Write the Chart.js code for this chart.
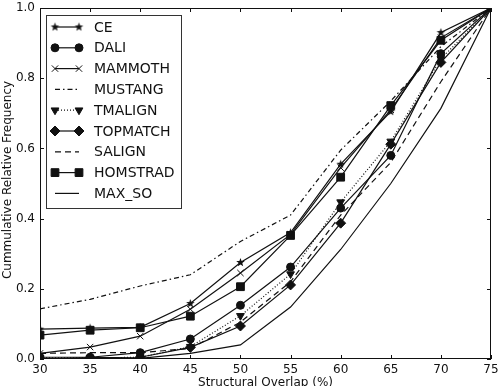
<!DOCTYPE html>
<html lang="en">
<head>
    <meta charset="UTF-8">
    <title>Structural Overlap</title>
    <script src="https://cdn.jsdelivr.net/npm/chart.js"></script>
    <style>
        body {
            margin: 0;
            background: #ffffff;
        }

        .chart-container {
            position: relative;
            width: 500px;
            height: 386px;
        }
    </style>
</head>
<body>
    <div class="chart-container">
        <canvas id="overlapChart"></canvas>
    </div>

    <script>
        // Datos
        const overlap = [30, 35, 40, 45, 50, 55, 60, 65, 70, 75];
        const ce       = [0.085, 0.088, 0.090, 0.158, 0.275, 0.360, 0.555, 0.705, 0.930, 1.0];
        const dali     = [0.005, 0.005, 0.018, 0.057, 0.153, 0.262, 0.430, 0.580, 0.870, 1.0];
        const mammoth  = [0.016, 0.034, 0.065, 0.142, 0.245, 0.355, 0.545, 0.710, 0.915, 1.0];
        const mustang  = [0.143, 0.170, 0.208, 0.240, 0.335, 0.410, 0.595, 0.735, 0.890, 1.0];
        const tmalign  = [0.003, 0.003, 0.005, 0.035, 0.123, 0.242, 0.447, 0.620, 0.855, 1.0];
        const topmatch = [0.000, 0.004, 0.005, 0.033, 0.094, 0.211, 0.387, 0.612, 0.845, 1.0];
        const salign   = [0.016, 0.018, 0.018, 0.030, 0.105, 0.220, 0.410, 0.560, 0.790, 1.0];
        const homstrad = [0.068, 0.082, 0.089, 0.122, 0.206, 0.352, 0.518, 0.722, 0.908, 1.0];
        const maxSo    = [0.000, 0.000, 0.002, 0.016, 0.040, 0.148, 0.312, 0.500, 0.714, 1.0];
        const yTicks = [0, 0.2, 0.4, 0.6, 0.8, 1.0];

        const ink = '#111111';

        // Estrella rellena (estilo matplotlib '*')
        function makeStar(r) {
            const c = document.createElement('canvas');
            c.width = r * 2 + 2;
            c.height = r * 2 + 2;
            const g = c.getContext('2d');
            g.fillStyle = ink;
            g.beginPath();
            for (let i = 0; i < 10; i++) {
                const rad = i % 2 === 0 ? r : r * 0.42;
                const a = -Math.PI / 2 + i * Math.PI / 5;
                g.lineTo(r + 1 + rad * Math.cos(a), r + 1 + rad * Math.sin(a));
            }
            g.closePath();
            g.fill();
            return c;
        }
        const star = makeStar(4.5);

        function series(label, values, extra) {
            return Object.assign({
                label,
                data: overlap.map((x, i) => ({ x, y: values[i] })),
                borderColor: ink,
                backgroundColor: ink,
                borderWidth: 1.2,
                pointRadius: 0,
                pointBorderWidth: 1,
                pointBorderColor: ink,
                pointBackgroundColor: ink,
                tension: 0
            }, extra);
        }

        const datasets = [
            series('CE', ce, { pointStyle: star, pointRadius: 4.5 }),
            series('DALI', dali, { pointStyle: 'circle', pointRadius: 4 }),
            series('MAMMOTH', mammoth, { pointStyle: 'crossRot', pointRadius: 4.5 }),
            series('MUSTANG', mustang, { borderDash: [5, 3, 1.5, 3] }),
            series('TMALIGN', tmalign, { pointStyle: 'triangle', pointRotation: 180, pointRadius: 4.5, borderDash: [1, 2] }),
            series('TOPMATCH', topmatch, { pointStyle: 'rectRot', pointRadius: 5 }),
            series('SALIGN', salign, { borderDash: [6, 4] }),
            series('HOMSTRAD', homstrad, { pointStyle: 'rect', pointRadius: 5.5 }),
            series('MAX_SO', maxSo, {})
        ];

        // Marco, marcas hacia dentro, titulos y leyenda
        const framePlugin = {
            id: 'frame',
            afterDraw(chart) {
                const ctx = chart.ctx;
                const a = chart.chartArea;
                const xs = chart.scales.x;
                const ys = chart.scales.y;
                ctx.save();
                ctx.strokeStyle = ink;
                ctx.lineWidth = 1;
                ctx.strokeRect(a.left + 0.5, a.top + 0.5, a.right - a.left - 1, a.bottom - a.top - 1);

                ctx.beginPath();
                overlap.forEach(v => {
                    const px = Math.round(xs.getPixelForValue(v)) + 0.5;
                    ctx.moveTo(px, a.bottom); ctx.lineTo(px, a.bottom - 4);
                    ctx.moveTo(px, a.top); ctx.lineTo(px, a.top + 4);
                });
                yTicks.forEach(v => {
                    const py = Math.round(ys.getPixelForValue(v)) + 0.5;
                    ctx.moveTo(a.left, py); ctx.lineTo(a.left + 4, py);
                    ctx.moveTo(a.right, py); ctx.lineTo(a.right - 4, py);
                });
                ctx.stroke();

                // Titulos de los ejes
                ctx.fillStyle = ink;
                ctx.font = '12px "DejaVu Sans"';
                ctx.textAlign = 'center';
                ctx.textBaseline = 'alphabetic';
                ctx.fillText('Structural Overlap (%)', (a.left + a.right) / 2, 386);
                ctx.save();
                ctx.translate(8, 180);
                ctx.rotate(-Math.PI / 2);
                ctx.textBaseline = 'middle';
                ctx.fillText('Cummulative Relative Frequency', 0, 0);
                ctx.restore();

                // Leyenda
                ctx.fillStyle = '#ffffff';
                ctx.fillRect(46, 15, 135, 193);
                ctx.strokeStyle = '#333333';
                ctx.strokeRect(46.5, 15.5, 135, 193);
                ctx.font = '14px "DejaVu Sans"';
                ctx.textAlign = 'left';
                ctx.textBaseline = 'middle';
                chart.data.datasets.forEach((ds, i) => {
                    const y = 27 + i * 20.8;
                    ctx.strokeStyle = ink;
                    ctx.lineWidth = 1.2;
                    ctx.setLineDash(ds.borderDash || []);
                    ctx.beginPath();
                    ctx.moveTo(55, y);
                    ctx.lineTo(79, y);
                    ctx.stroke();
                    ctx.setLineDash([]);
                    if (ds.pointStyle) {
                        ctx.fillStyle = ink;
                        ctx.lineWidth = 1;
                        const opts = {
                            pointStyle: ds.pointStyle,
                            rotation: ds.pointRotation || 0,
                            radius: ds.pointRadius,
                            borderWidth: 1
                        };
                        Chart.helpers.drawPoint(ctx, opts, 55, y);
                        Chart.helpers.drawPoint(ctx, opts, 79, y);
                    }
                    ctx.fillStyle = ink;
                    ctx.fillText(ds.label, 94, y + 1);
                });
                ctx.restore();
            }
        };

        Chart.defaults.font.family = '"DejaVu Sans", sans-serif';
        Chart.defaults.color = ink;

        new Chart(document.getElementById('overlapChart'), {
            type: 'line',
            data: { datasets },
            options: {
                responsive: true,
                maintainAspectRatio: false,
                animation: false,
                layout: {
                    padding: { top: 8, right: 9, left: 0, bottom: 0 }
                },
                plugins: {
                    legend: { display: false },
                    tooltip: { enabled: false }
                },
                scales: {
                    x: {
                        type: 'linear',
                        min: 30,
                        max: 75,
                        grid: { display: false, drawTicks: false },
                        border: { display: false },
                        afterFit: s => {
                            s.height = 27;
                            s.paddingLeft = 0;
                            s.paddingRight = 0;
                        },
                        ticks: {
                            stepSize: 5,
                            padding: 4,
                            font: { size: 12 },
                            maxRotation: 0
                        }
                    },
                    y: {
                        min: 0,
                        max: 1,
                        grid: { display: false, drawTicks: false },
                        border: { display: false },
                        afterFit: s => {
                            s.width = 40;
                            s.paddingTop = 0;
                            s.paddingBottom = 0;
                        },
                        ticks: {
                            stepSize: 0.2,
                            padding: 5,
                            font: { size: 12 },
                            callback: v => v.toFixed(1)
                        }
                    }
                }
            },
            plugins: [framePlugin]
        });
    </script>
</body>
</html>
